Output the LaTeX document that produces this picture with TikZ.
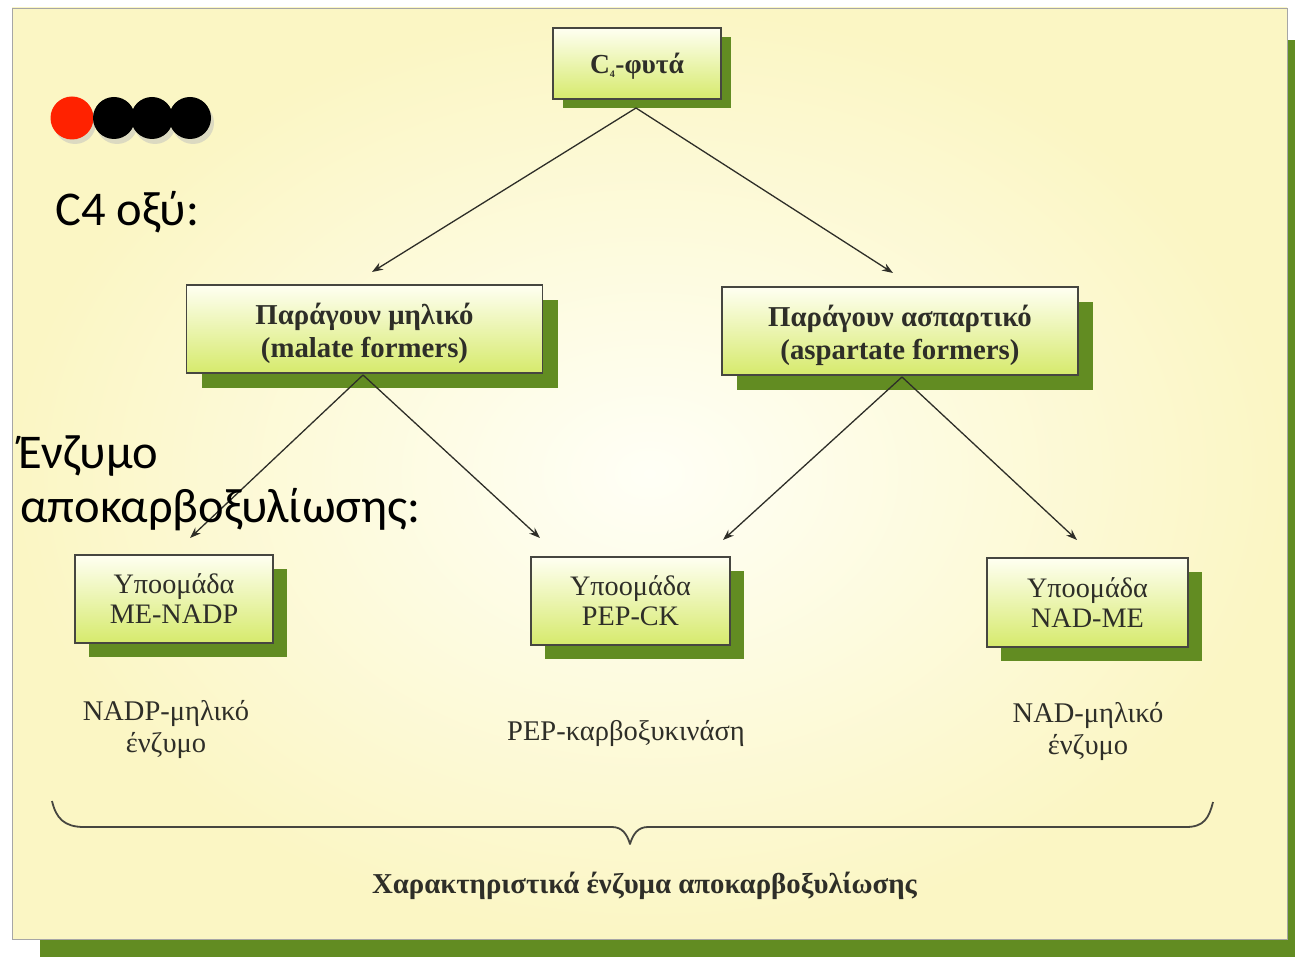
\documentclass[tikz,border=0pt]{standalone}
\usepackage{fontspec}
\setmainfont{Liberation Serif}
\newfontfamily\labelfont{Carlito}
\usetikzlibrary{arrows.meta,shadows}

\definecolor{panelyellow}{RGB}{251,246,196}
\definecolor{panelcentre}{RGB}{255,255,246}
\definecolor{shadowgreen}{RGB}{98,140,34}
\definecolor{boxtop}{RGB}{255,255,242}
\definecolor{boxbottom}{RGB}{214,234,108}
\definecolor{inkgray}{RGB}{46,46,40}
\definecolor{edgegray}{RGB}{70,70,64}
\definecolor{dotred}{RGB}{255,34,0}

\tikzset{
  boxbase/.style={draw=edgegray, line width=1.4pt, top color=boxtop,
    bottom color=boxbottom, align=center, text=inkgray, inner sep=0pt},
  greenshadow/.style={general shadow={fill=shadowgreen,
    shadow xshift=#1, shadow yshift=-#1}},
  rootbox/.style={boxbase, minimum width=168pt, minimum height=71pt,
    general shadow={fill=shadowgreen, shadow xshift=10pt, shadow yshift=-9pt}},
  formerbox/.style={boxbase, greenshadow=15pt, minimum width=356pt,
    minimum height=88pt, font=\fontsize{28.8}{33}\selectfont\bfseries},
  groupbox/.style={boxbase, greenshadow=14pt, minimum width=199pt,
    minimum height=88pt, font=\fontsize{28.2}{30}\selectfont},
  arr/.style={draw=inkgray, line width=1.3pt,
    -{Stealth[length=11pt,width=8pt]}},
  enzyme/.style={text=inkgray, align=center, font=\fontsize{28.5}{32}\selectfont},
  sidelabel/.style={anchor=base west, inner sep=0pt, text=black,
    font=\labelfont\fontsize{48.5}{54}\selectfont},
}

\begin{document}
\begin{tikzpicture}[x=1pt, y=-1pt]
\useasboundingbox (0,0) rectangle (1295,957);
\fill[white] (0,0) rectangle (1295,957);

% page panel with its green drop shadow
\fill[shadowgreen] (40,40) rectangle (1295,957);
\shade[inner color=panelcentre, outer color=panelyellow]
  (12,8) rectangle (1287,939);
\draw[gray!70, line width=0.8pt] (12,8) rectangle (1287,939);

% row of dots
\fill[black!25, opacity=0.5] (75,123) circle (21);
\foreach \cx in {114,152,190} {
  \fill[black!25, opacity=0.5] (\cx+3,123) circle (21);
}
\fill[dotred] (72,118) circle (21.5);
\foreach \cx in {114,152,190} {
  \fill[black] (\cx,118) circle (21);
}

% boxes (text baselines sit a little low in the boxes)
\node[rootbox, font=\fontsize{27.5}{30}\selectfont\bfseries] (root) at (637,63.5)
  {};
\node[text=inkgray, font=\fontsize{27.5}{30}\selectfont\bfseries] (roottext)
  at ([yshift=-3pt]root.center) {C\textsubscript{\fontsize{10}{10}\selectfont 4}-φυτά};
\node[formerbox, text depth=0pt] (malate) at (364.5,329) {};
\node[text=inkgray, align=center, font=\fontsize{28.8}{33}\selectfont\bfseries]
  (malatetext) at ([yshift=-4pt]malate.center)
  {Παράγουν μηλικό\\(malate formers)};
\node[formerbox] (aspartate) at (900,331) {};
\node[text=inkgray, align=center, font=\fontsize{28.8}{33}\selectfont\bfseries]
  (aspartatetext) at ([yshift=-4pt]aspartate.center)
  {Παράγουν ασπαρτικό\\(aspartate formers)};
\node[groupbox, minimum width=198pt] (menadp) at (174,599) {Υποομάδα\\ME-NADP};
\node[groupbox] (pepck) at (630.5,601) {Υποομάδα\\PEP-CK};
\node[groupbox, minimum width=201pt, minimum height=89pt] (nadme) at (1087.5,602.5)
  {Υποομάδα\\NAD-ME};

% connector ends
\coordinate (rootout) at (636,108);
\coordinate (malin) at (372,272);
\coordinate (aspin) at (893,273);
\coordinate (malout) at (363,375);
\coordinate (aspout) at (902,377);
\coordinate (menadpin) at (190,538);
\coordinate (pepckinL) at (540,538);
\coordinate (pepckinR) at (723,540);
\coordinate (nadmein) at (1077,540);

\draw[arr] (rootout) -- (malin);
\draw[arr] (rootout) -- (aspin);
\draw[arr] (malout) -- (menadpin);
\draw[arr] (malout) -- (pepckinL);
\draw[arr] (aspout) -- (pepckinR);
\draw[arr] (aspout) -- (nadmein);

% enzyme names under the groups
\node[enzyme] (nadpenz) at (166,729) {NADP-μηλικό\\ένζυμο};
\node[enzyme] (pepenz) at (626,733) {PEP-καρβοξυκινάση};
\node[enzyme] (nadenz) at (1088,731) {NAD-μηλικό\\ένζυμο};

% brace over the whole row
\draw[edgegray, line width=1.8pt, line join=round]
  (52,801) .. controls (56,818) and (64,827) .. (84,827)
  -- (612,827) .. controls (622,827) and (627,834) .. (630,844)
  .. controls (633,834) and (638,827) .. (648,827)
  -- (1186,827) .. controls (1204,827) and (1209,818) .. (1213,802);

\node[text=inkgray, font=\fontsize{28.8}{30}\selectfont\bfseries] (caption) at (644.5,886)
  {Χαρακτηριστικά ένζυμα αποκαρβοξυλίωσης};

% side labels
\node[sidelabel] (acidlbl) at (55,226) {C4 οξύ:};
\node[sidelabel] (enzlbl1) at (18,468) {Ένζυμο};
\node[sidelabel] (enzlbl2) at (20,522) {αποκαρβοξυλίωσης:};
\end{tikzpicture}
\end{document}
